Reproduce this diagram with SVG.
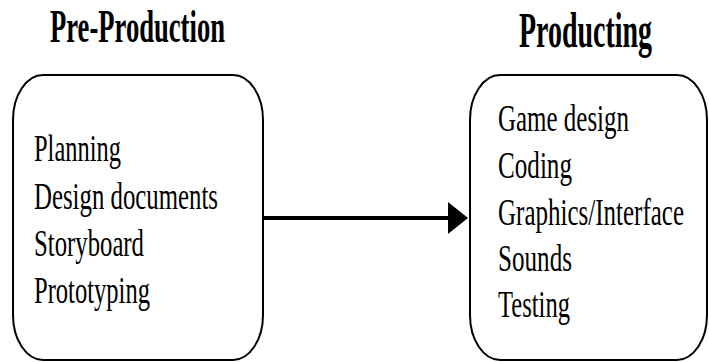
<svg xmlns="http://www.w3.org/2000/svg" width="709" height="362" viewBox="0 0 709 362">
<style>
.title{font-family:"Liberation Serif","Times New Roman",serif;font-weight:bold;fill:#000}
.item{font-family:"Liberation Serif","Times New Roman",serif;font-size:37px;fill:#000}
.box{fill:#fff;stroke:#000;stroke-width:2}
</style>
<defs>
<marker id="ah" markerWidth="5" markerHeight="8" refX="0" refY="4" orient="auto" markerUnits="strokeWidth">
<path d="M0,0 L5,4 L0,8 Z" fill="#000"/>
</marker>
</defs>
<rect width="709" height="362" fill="#fff"/>
<g id="pre-production">
<text class="title" x="50" y="42" font-size="46" textLength="175" lengthAdjust="spacingAndGlyphs">Pre-Production</text>
<rect class="box" x="13" y="75" width="250" height="285" rx="30" ry="45"/>
<text class="item" x="34" y="161" textLength="87" lengthAdjust="spacingAndGlyphs">Planning</text>
<text class="item" x="34" y="209" textLength="184" lengthAdjust="spacingAndGlyphs">Design documents</text>
<text class="item" x="34" y="256" textLength="110" lengthAdjust="spacingAndGlyphs">Storyboard</text>
<text class="item" x="34" y="303" textLength="116" lengthAdjust="spacingAndGlyphs">Prototyping</text>
</g>
<g id="producting">
<text class="title" x="519" y="47" font-size="50" textLength="133" lengthAdjust="spacingAndGlyphs">Producting</text>
<rect class="box" x="470" y="75" width="237" height="285" rx="30" ry="45"/>
<text class="item" x="498" y="131" textLength="131" lengthAdjust="spacingAndGlyphs">Game design</text>
<text class="item" x="498" y="178" textLength="74" lengthAdjust="spacingAndGlyphs">Coding</text>
<text class="item" x="498" y="225" textLength="186" lengthAdjust="spacingAndGlyphs">Graphics/Interface</text>
<text class="item" x="498" y="271" textLength="74" lengthAdjust="spacingAndGlyphs">Sounds</text>
<text class="item" x="498" y="317" textLength="72" lengthAdjust="spacingAndGlyphs">Testing</text>
</g>
<g id="connectors">
<line x1="263" y1="218" x2="448" y2="218" stroke="#000" stroke-width="4" marker-end="url(#ah)"/>
</g>
</svg>
